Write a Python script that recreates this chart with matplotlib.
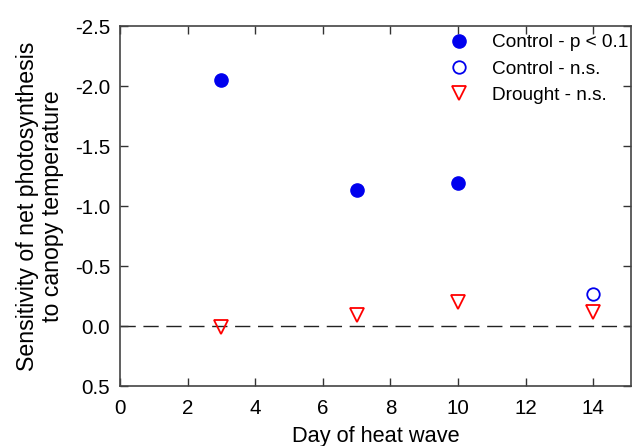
import matplotlib
matplotlib.use("Agg")
import matplotlib.pyplot as plt

plt.rcParams['font.family'] = ['Liberation Sans', 'DejaVu Sans']

days_ctrl_sig = [3, 7, 10]
vals_ctrl_sig = [-2.05, -1.13, -1.19]
days_ctrl_ns = [14]
vals_ctrl_ns = [-0.27]
days_drought = [3, 7, 10, 14]
vals_drought = [0.01, -0.09, -0.20, -0.12]

xticks = [0, 2, 4, 6, 8, 10, 12, 14]
yticks = [-2.5, -2.0, -1.5, -1.0, -0.5, 0.0, 0.5]

fig = plt.figure(figsize=(6.32, 4.46), dpi=100)
ax = fig.add_axes([120/632, 60/446, 511/632, 360/446])

ax.axhline(0, color='#222222', lw=1.0, dashes=(11, 5.5), zorder=1)
ax.plot(days_ctrl_sig, vals_ctrl_sig, 'o', color='#0000ee', ms=9.5, mec='#0000ee',
        label='Control - p < 0.1', zorder=3)
ax.plot(days_ctrl_ns, vals_ctrl_ns, 'o', mfc='none', mec='#0000ee', mew=1.3, ms=9,
        label='Control - n.s.', zorder=3)
ax.plot(days_drought, vals_drought, 'v', mfc='none', mec='#ff0000', mew=1.3, ms=10,
        label='Drought - n.s.', zorder=3)

ax.set_xlim(0, 15.12)
ax.set_ylim(0.5, -2.5)
ax.set_xticks(xticks)
ax.set_xticklabels([str(t) for t in xticks])
ax.set_yticks(yticks)
ax.set_yticklabels([f"{t:.1f}" for t in yticks])
ax.tick_params(direction='in', length=6, width=1, top=True, right=True,
               labelsize=14.8, colors='#333333', labelcolor='black')
ax.tick_params(axis='x', pad=9)
ax.tick_params(axis='y', pad=7)
for s in ax.spines.values():
    s.set_color('#444444')
    s.set_linewidth(1.2)

ax.set_xlabel('Day of heat wave', fontsize=15.7, labelpad=6)
ax.set_ylabel('Sensitivity of net photosynthesis\nto canopy temperature', fontsize=16.7,
              labelpad=8, linespacing=1.1)

leg = ax.legend(loc='upper left', bbox_to_anchor=(0.609, 1.015), frameon=False,
                fontsize=13.7, handletextpad=1.0, labelspacing=0.47, borderaxespad=0.3,
                handlelength=1.5)

fig.savefig('out.png', dpi=100)
